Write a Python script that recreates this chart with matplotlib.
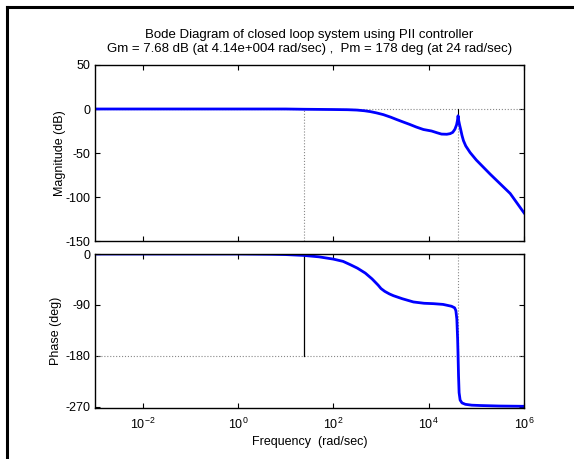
import numpy as np
import matplotlib
matplotlib.use("Agg")
import matplotlib.pyplot as plt
from matplotlib.lines import Line2D

plt.rcParams['font.family'] = ['Liberation Sans', 'DejaVu Sans']
plt.rcParams['mathtext.fontset'] = 'custom'
plt.rcParams['mathtext.rm'] = 'Liberation Sans'
plt.rcParams['mathtext.it'] = 'Liberation Sans:italic'
plt.rcParams['axes.unicode_minus'] = False

# magnitude readings (rad/sec, dB)
mag_w = [1e-3, 10, 24, 100, 200, 310, 450, 600, 800, 1120, 1600, 2140,
         3000, 4000, 5500, 7760, 11500, 15000, 18600, 24000, 28200, 32000,
         35500, 38500, 40200, 41400, 42600, 44500, 46800, 50000, 53700,
         60000, 74100, 100000, 195000, 513000, 1e6]
mag_db = [0, 0, -0.3, -0.6, -0.8, -1.2, -2, -3, -4.4, -6.4, -9.3, -12,
          -15, -17.5, -20.5, -23.3, -25, -27, -28.5, -28.7, -28, -26.5,
          -23, -18, -13, -7.68, -13, -18, -23, -30, -36,
          -42, -49.5, -58, -74, -96, -118]

# phase readings (rad/sec, deg)
ph_w = [1e-3, 1, 5, 10, 24, 50, 100, 160, 229, 320, 468, 650, 871, 1000,
        1200, 1500, 1820, 2800, 4790, 8000, 12600, 20000, 30200, 35000,
        37200, 39000, 40500, 41400, 42300, 43500, 45700, 50000, 58900,
        80000, 120000, 300000, 1e6]
ph_deg = [0, 0, -0.5, -1, -2.5, -5, -9, -13, -19, -25, -33.7, -44, -55, -61,
          -66, -70.5, -73.6, -79, -84.7, -87, -87.7, -89, -92.3, -95,
          -100, -115, -150, -180, -215, -245, -258, -263, -265.5,
          -267, -267.6, -268.5, -269]

gm_w, gm_db = 4.14e4, 7.68
pm_w, pm_deg = 24, 178

xticks = [1e-2, 1, 1e2, 1e4, 1e6]
xticklabels = ['$10^{-2}$', '$10^{0}$', '$10^{2}$', '$10^{4}$', '$10^{6}$']
mag_ticks = [50, 0, -50, -100, -150]
ph_ticks = [0, -90, -180, -270]

fig = plt.figure(figsize=(5.74, 4.59), dpi=100)
ax1 = fig.add_axes([0.1655, 0.4749, 0.7474, 0.3835])
ax2 = fig.add_axes([0.1655, 0.1111, 0.7474, 0.3355])

grey = '#888888'
fs = 9

# magnitude
ax1.axhline(0, color=grey, lw=0.8, ls=':')
ax1.plot([pm_w, pm_w], [-150, 0], color=grey, lw=0.8, ls=':')
ax1.plot([gm_w, gm_w], [-150, -gm_db], color=grey, lw=0.8, ls=':')
ax1.plot([gm_w, gm_w], [0, -gm_db], color='k', lw=0.8)
ax1.semilogx(mag_w, mag_db, color='#0000ff', lw=2)
ax1.set_ylim(-150, 50)
ax1.set_yticks(mag_ticks)
ax1.set_ylabel('Magnitude (dB)', fontsize=fs, labelpad=0)
ax1.set_title('Bode Diagram of closed loop system using PII controller\n'
              'Gm = 7.68 dB (at 4.14e+004 rad/sec) ,  Pm = 178 deg (at 24 rad/sec)',
              fontsize=9.5, pad=9, linespacing=1.3)

# phase
ax2.axhline(-180, color=grey, lw=0.8, ls=':')
ax2.plot([gm_w, gm_w], [0, -180], color=grey, lw=0.8, ls=':')
ax2.plot([pm_w, pm_w], [-180, pm_deg - 180], color='k', lw=0.9)
ax2.semilogx(ph_w, ph_deg, color='#0000ff', lw=2)
ax2.set_ylim(-272, 0)
ax2.set_yticks(ph_ticks)
ax2.set_ylabel('Phase (deg)', fontsize=fs, labelpad=3)
ax2.set_xlabel('Frequency  (rad/sec)', fontsize=fs, labelpad=3)

for ax in (ax1, ax2):
    ax.set_xscale('log')
    ax.set_xlim(1e-3, 1e6)
    ax.set_xticks(xticks)
    ax.minorticks_off()
    ax.tick_params(direction='in', length=3.5, width=0.8, top=True, right=True,
                   labelsize=fs, pad=3)
    for s in ax.spines.values():
        s.set_linewidth(1)
ax1.set_xticklabels([])
ax2.set_xticklabels(xticklabels)
ax2.tick_params(axis='x', pad=6)

# outer frame (left and top edges)
fx, fy = 7 / 574, 1 - 7 / 459
fig.add_artist(Line2D([fx, fx], [0, fy], transform=fig.transFigure, color='k', lw=2.2))
fig.add_artist(Line2D([fx, 1], [fy, fy], transform=fig.transFigure, color='k', lw=2.2))

fig.savefig('out.png', dpi=100)
